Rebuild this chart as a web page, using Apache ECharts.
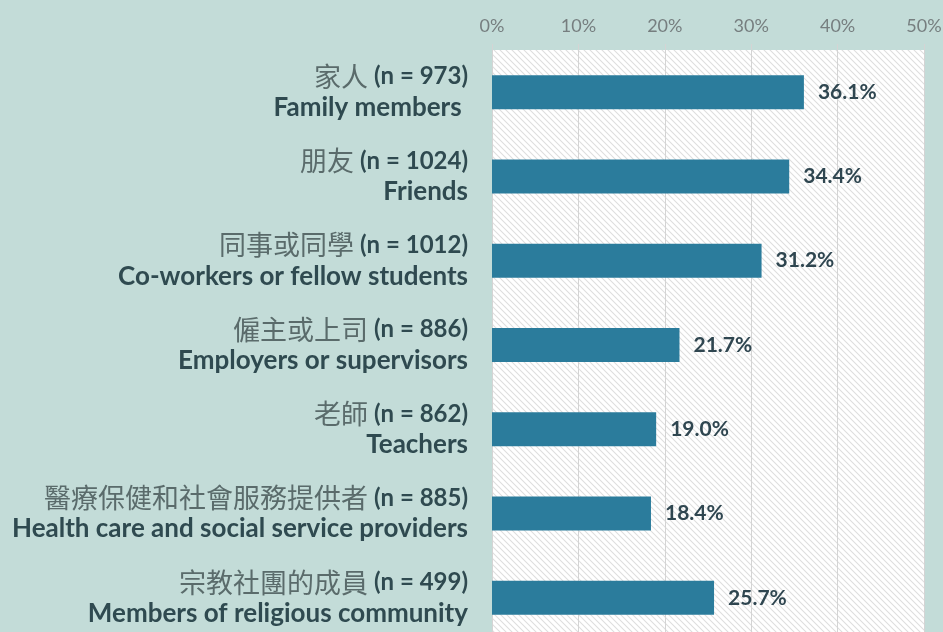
<!DOCTYPE html>
<html>
<head>
<meta charset="utf-8">
<script src="https://cdn.jsdelivr.net/npm/echarts@6/dist/echarts.min.js"></script>
<style>
  html, body { margin: 0; padding: 0; background: #c3dcd8; }
  #main { width: 943px; height: 632px; }
</style>
</head>
<body>
<div id="main"></div>
<script>
// 資料
const zhNames = ["家人", "朋友", "同事或同學", "僱主或上司", "老師", "醫療保健和社會服務提供者", "宗教社團的成員"];
const counts = [973, 1024, 1012, 886, 862, 885, 499];
const enNames = ["Family members ", "Friends", "Co-workers or fellow students", "Employers or supervisors", "Teachers", "Health care and social service providers", "Members of religious community"];
const values = [36.1, 34.4, 31.2, 21.7, 19.0, 18.4, 25.7];
const ticks = [0, 10, 20, 30, 40, 50];

// 斜線底紋
function hatch() {
  const c = document.createElement("canvas");
  c.width = 6; c.height = 6;
  const ctx = c.getContext("2d");
  ctx.fillStyle = "#ffffff";
  ctx.fillRect(0, 0, 6, 6);
  ctx.strokeStyle = "#dedede";
  ctx.lineWidth = 1.1;
  ctx.beginPath();
  ctx.moveTo(-1, -1); ctx.lineTo(7, 7);
  ctx.moveTo(-1, 5); ctx.lineTo(1, 7);
  ctx.moveTo(5, -1); ctx.lineTo(7, 1);
  ctx.stroke();
  return c;
}

const cats = zhNames.map((z, i) => i);

const chart = echarts.init(document.getElementById("main"));
chart.setOption({
  backgroundColor: "#c3dcd8",
  animation: false,
  grid: {
    left: 492, top: 50, width: 432, height: 590,
    outerBoundsMode: "none",
    containLabel: false,
    show: true,
    borderWidth: 0,
    backgroundColor: { image: hatch(), repeat: "repeat" }
  },
  xAxis: {
    type: "value",
    position: "top",
    min: ticks[0], max: ticks[ticks.length - 1], interval: 10,
    axisLine: { show: false },
    axisTick: { show: true, length: 6, lineStyle: { color: "#d4d4d4" } },
    splitLine: { lineStyle: { color: "#d4d4d4", width: 1 } },
    axisLabel: {
      formatter: v => v + "%",
      color: "#767e7f",
      fontSize: 18,
      fontFamily: "Lato",
      margin: 15
    }
  },
  yAxis: {
    type: "category",
    inverse: true,
    data: cats,
    axisLine: { show: false },
    axisTick: { show: false },
    axisLabel: {
      margin: 24,
      align: "right",
      formatter: i => "{zh|" + zhNames[i] + " }{n|(n = " + counts[i] + ")}\n{en|" + enNames[i] + "}",
      rich: {
        zh: { fontFamily: "Noto Sans CJK TC", fontSize: 27, color: "#5a6b6b", lineHeight: 31 },
        n: { fontFamily: "Lato", fontWeight: "bold", fontSize: 24, color: "#2f4a50", lineHeight: 31 },
        en: { fontFamily: "Lato", fontWeight: "bold", fontSize: 26, color: "#2f4a50", lineHeight: 31 }
      }
    }
  },
  series: [{
    type: "bar",
    data: values,
    barWidth: 34,
    itemStyle: { color: "#2b7c9c" },
    label: {
      show: true,
      position: "right",
      distance: 14,
      formatter: p => p.value.toFixed(1) + "%",
      fontFamily: "Lato",
      fontWeight: "bold",
      fontSize: 21,
      color: "#2f4650"
    }
  }]
});
</script>
</body>
</html>
